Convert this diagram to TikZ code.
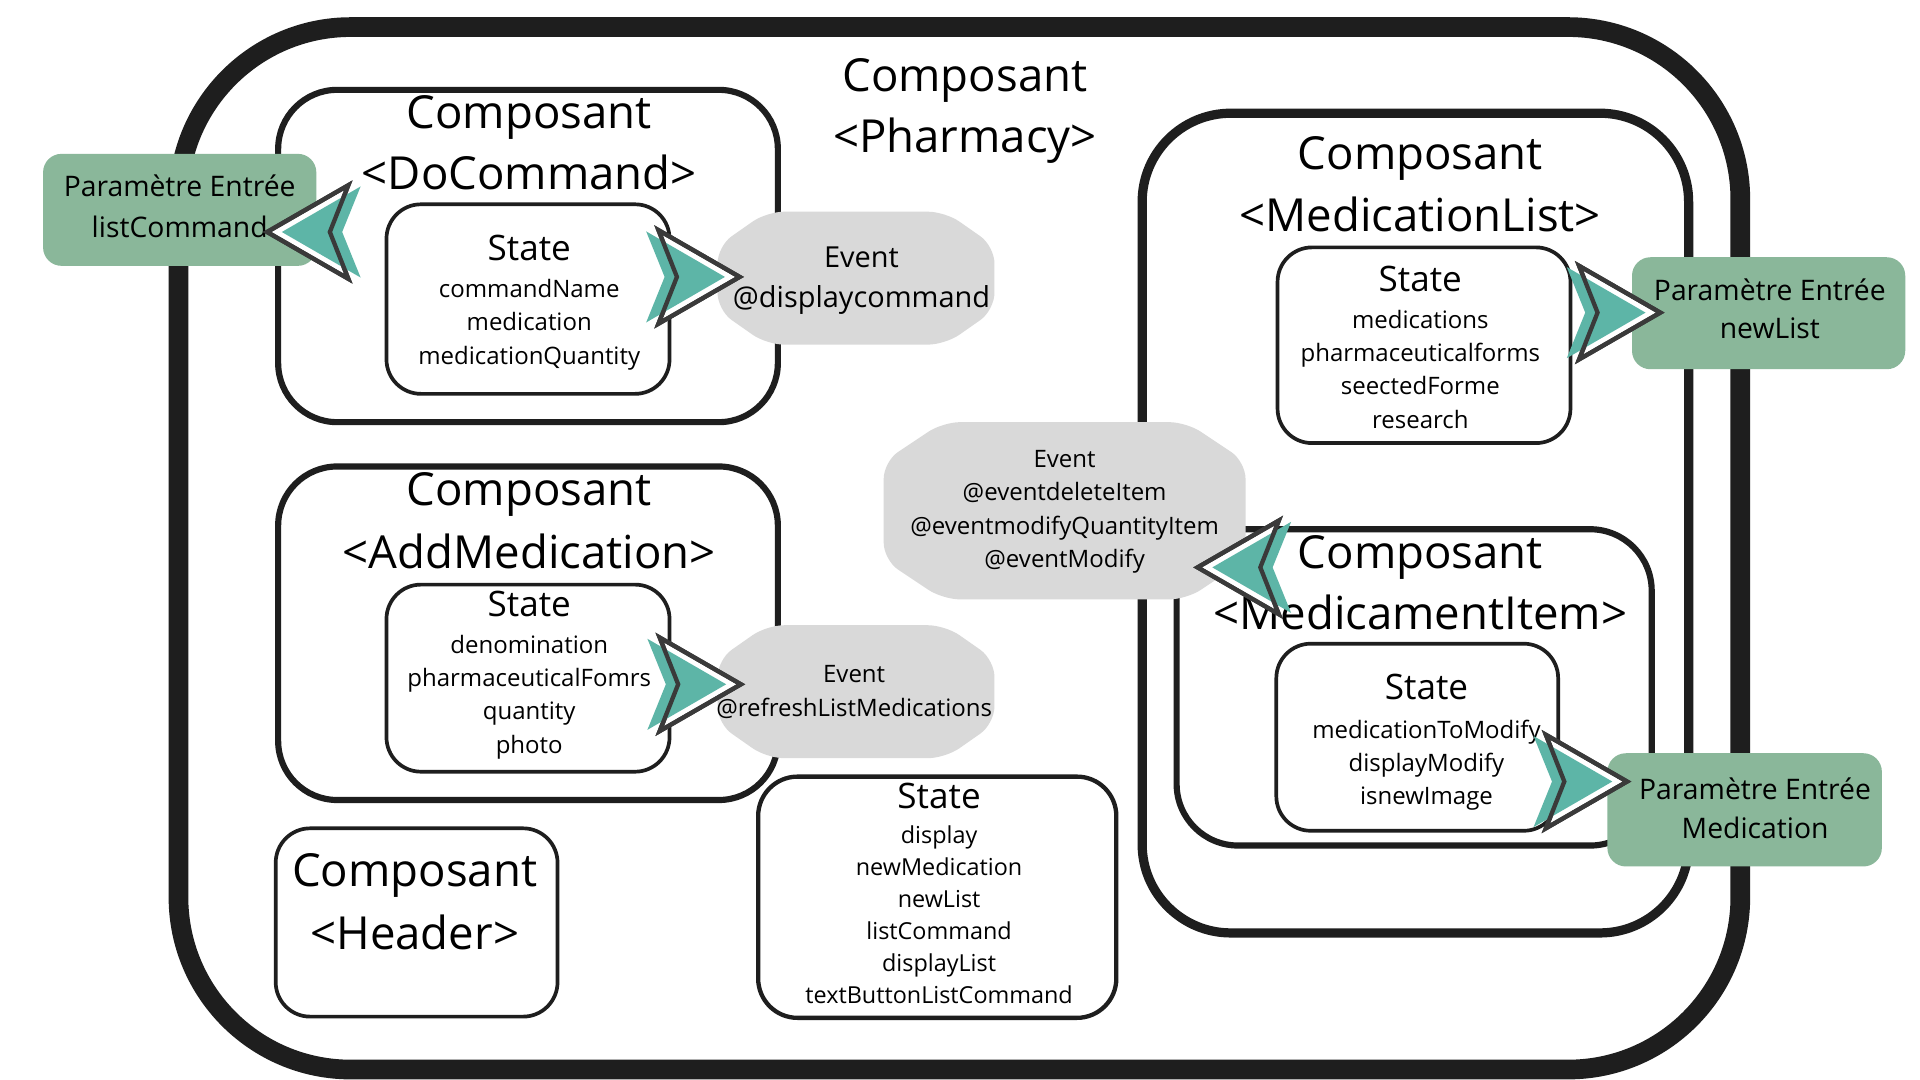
\documentclass[tikz,border=0pt]{standalone}
\usepackage{fontspec}
\setmainfont{Open Sans}
\usetikzlibrary{fit}
\definecolor{framec}{HTML}{1E1E1E}
\definecolor{tealc}{HTML}{5DB5A7}
\definecolor{paramc}{HTML}{8AB79A}
\definecolor{evc}{HTML}{D9D9D9}
\definecolor{chevc}{HTML}{3A3A3A}
\newcommand\fsz[1]{\fontsize{#1}{#1}\selectfont}
\newcommand\EvBlob[6]{\fill[evc, rounded corners=14pt] (#1+#5,#2) -- (#3-#5,#2) -- (#3,#2+#6) -- (#3,#4-#6) -- (#3-#5,#4) -- (#1+#5,#4) -- (#1,#4-#6) -- (#1,#2+#6) -- cycle;}
\tikzset{
  outerframe/.style={draw=framec, line width=16pt, rounded corners=140pt},
  compbox/.style={draw=framec, line width=5pt, rounded corners=48pt, fill=white, inner sep=0pt},
  statebox/.style={draw=framec, line width=3pt, rounded corners=28pt, fill=white, inner sep=0pt},
  parambox/.style={fill=paramc, rounded corners=15pt, inner sep=0pt},
  bigtxt/.style={font=\fsz{37}, anchor=base, inner sep=0pt},
  sttxt/.style={font=\fsz{28.5}, anchor=base, inner sep=0pt},
  ittxt/.style={font=\fsz{19.5}, anchor=base, inner sep=0pt},
  evtxt/.style={font=\fsz{23.5}, anchor=base, inner sep=0pt},
  partxt/.style={font=\fsz{23}, anchor=base, inner sep=0pt},
  chev/.pic={
    \filldraw[fill=white, draw=chevc, line width=3.5pt, line join=miter] (-66,38) -- (0,0) -- (-66,-38) -- (-51,0) -- cycle;
    \fill[tealc] (-76,37) -- (-12,0) -- (-76,-37) -- (-61,0) -- cycle;
    \draw[chevc, line width=3.5pt, line join=miter] (-66,38) -- (0,0) -- (-66,-38) -- (-51,0) -- cycle;
  }
}
\begin{document}
\begin{tikzpicture}[x=1pt,y=-1pt]
\useasboundingbox (0,0) rectangle (1560,877.5);
\fill[white] (0,0) rectangle (1560,877.5);
% outer frame
\draw[outerframe] (145,22) rectangle (1414,869);
% component boxes
\node[compbox, fit={(226,73) (632,343)}] (docmd) {};
\node[compbox, fit={(226,379) (632,650)}] (addmed) {};
\node[statebox, rounded corners=28pt, fit={(224,673) (453,826)}] (header) {};
\node[compbox, line width=7.5pt, rounded corners=72pt, fit={(928,92) (1372,758)}] (medlist) {};
\node[compbox, rounded corners=50pt, fit={(956,430) (1342,687)}] (meditem) {};
% state boxes
\node[statebox, fit={(314,166) (544,320)}] (docmdst) {};
\node[statebox, fit={(314,475) (544,627)}] (addmedst) {};
\node[statebox, line width=3.5pt, rounded corners=32pt, fit={(616,631) (907,827)}] (pharmst) {};
\node[statebox, fit={(1038,201) (1276,360)}] (medlistst) {};
\node[statebox, fit={(1037,523) (1266,675)}] (meditemst) {};
% events
\EvBlob{583}{172}{808}{280}{40}{28}
\EvBlob{583}{508}{808}{616}{40}{28}
\EvBlob{718}{343}{1012}{487}{48}{32}
% parameter boxes
\node[parambox, fit={(35,125) (257,216)}] (parcmd) {};
\node[parambox, fit={(1326,209) (1548,300)}] (parlist) {};
\node[parambox, fit={(1306,612) (1529,704)}] (parmed) {};
% titles
\node[bigtxt] (pht1) at (784,74.1) {Composant};
\node[bigtxt] (pht2) at (784,124.1) {<Pharmacy>};
\node[bigtxt] (dct1) at (430,104.1) {Composant};
\node[bigtxt] (dct2) at (430,154.1) {<DoCommand>};
\node[bigtxt] (amt1) at (430,411.1) {Composant};
\node[bigtxt] (amt2) at (430,462.1) {<AddMedication>};
\node[bigtxt] (hdt1) at (337,720.1) {Composant};
\node[bigtxt] (hdt2) at (337,771.1) {<Header>};
\node[bigtxt] (mlt1) at (1154,138.1) {Composant};
\node[bigtxt] (mlt2) at (1154,188.1) {<MedicationList>};
\node[bigtxt] (mit1) at (1154,462.1) {Composant};
\node[bigtxt] (mit2) at (1154,511.1) {<MedicamentItem>};
% state texts
\node[sttxt] (dcs) at (430,211.6) {State};
\foreach \t [count=\i from 0] in {commandName,medication,medicationQuantity}
  \node[ittxt] (dci\i) at (430,241.9+27*\i) {\t};
\node[sttxt] (ams) at (430,500.6) {State};
\foreach \t [count=\i from 0] in {denomination,pharmaceuticalFomrs,quantity,photo}
  \node[ittxt] (ami\i) at (430,530.9+27*\i) {\t};
\node[sttxt] (phs) at (763,656.6) {State};
\foreach \t [count=\i from 0] in {display,newMedication,newList,listCommand,displayList,textButtonListCommand}
  \node[ittxt, font=\fsz{19}] (phi\i) at (763,685.7+26*\i) {\t};
\node[sttxt] (mls) at (1154,236.6) {State};
\foreach \t [count=\i from 0] in {medications,pharmaceuticalforms,seectedForme,research}
  \node[ittxt] (mli\i) at (1154,266.9+27*\i) {\t};
\node[sttxt] (mis) at (1159,568.6) {State};
\foreach \t [count=\i from 0] in {medicationToModify,displayModify,isnewImage}
  \node[ittxt] (mii\i) at (1159,599.9+27*\i) {\t};
% event texts
\node[evtxt] (e1a) at (700,217) {Event};
\node[evtxt] (e1b) at (700,250) {@displaycommand};
\node[ittxt] (e2a) at (694,554.9) {Event};
\node[ittxt] (e2b) at (694,581.9) {@refreshListMedications};
\foreach \t [count=\i from 0] in {Event,@eventdeleteItem,@eventmodifyQuantityItem,@eventModify}
  \node[ittxt] (e3\i) at (865,379.9+27*\i) {\t};
% parameter texts
\node[partxt] (p1a) at (146,159.9) {Paramètre Entrée};
\node[partxt] (p1b) at (146,192.9) {listCommand};
\node[partxt] (p2a) at (1438,243.9) {Paramètre Entrée};
\node[partxt] (p2b) at (1438,274.9) {newList};
\node[partxt] (p3a) at (1426,649.9) {Paramètre Entrée};
\node[partxt] (p3b) at (1426,680.9) {Medication};
% connectors (chevrons)
\coordinate (c1) at (217,188.5);
\coordinate (c2) at (601,225);
\coordinate (c3) at (602,556);
\coordinate (c4) at (973,461);
\coordinate (c5) at (1349,254);
\coordinate (c6) at (1322,635);
\pic[rotate=180] at (c1) {chev};
\pic at (c2) {chev};
\pic at (c3) {chev};
\pic[rotate=180] at (c4) {chev};
\pic at (c5) {chev};
\pic at (c6) {chev};
\end{tikzpicture}
\end{document}
